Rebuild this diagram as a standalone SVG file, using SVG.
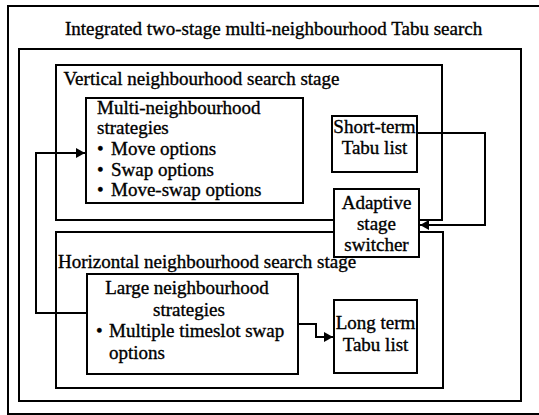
<svg xmlns="http://www.w3.org/2000/svg" width="539" height="415" viewBox="0 0 539 415">
<defs>
<style>
.box{fill:none;stroke:#000;stroke-width:2}
.node{fill:#fff;stroke:#000;stroke-width:2}
.t{font-family:"Liberation Serif","Times New Roman",serif;font-size:19px;fill:#000;stroke:#000;stroke-width:0.35}
.m{text-anchor:middle}
.c{fill:none;stroke:#000;stroke-width:2}
</style>
<marker id="ah" markerUnits="userSpaceOnUse" markerWidth="9" markerHeight="10" refX="9" refY="5" orient="auto">
<path d="M0,0 L9,5 L0,10 z" fill="#000"/>
</marker>
</defs>
<rect width="539" height="415" fill="#fff"/>
<g id="outer">
<rect class="box" x="8" y="6" width="545" height="408"/>
<text class="t" x="65" y="35">Integrated two-stage multi-neighbourhood Tabu search</text>
</g>
<g id="frame">
<rect class="box" x="19" y="49" width="502" height="352"/>
</g>
<g id="vertical-stage">
<rect class="box" x="56" y="65" width="386" height="155"/>
<text class="t" x="63.5" y="84.5">Vertical neighbourhood search stage</text>
</g>
<g id="horizontal-stage">
<rect class="box" x="56" y="232" width="387" height="156"/>
<text class="t" x="58" y="267.5">Horizontal neighbourhood search stage</text>
</g>
<g id="connectors">
<path class="c" d="M87,313 H36 V153 H85" marker-end="url(#ah)"/>
<path class="c" d="M417,133 H485 V225 H420" marker-end="url(#ah)"/>
<path class="c" d="M298,324 H316 V337 H333" marker-end="url(#ah)"/>
</g>
<g id="multi-neighbourhood">
<rect class="node" x="86" y="98" width="217" height="105"/>
<text class="t" x="97" y="113.5">Multi-neighbourhood</text>
<text class="t" x="97" y="134">strategies</text>
<text class="t" x="97" y="155">•</text><text class="t" x="111" y="155">Move options</text>
<text class="t" x="97" y="175.5">•</text><text class="t" x="111" y="175.5">Swap options</text>
<text class="t" x="97" y="196">•</text><text class="t" x="111" y="196">Move-swap options</text>
</g>
<g id="short-term">
<rect class="node" x="332" y="116" width="85" height="56"/>
<text class="t m" x="374.5" y="132.5">Short-term</text>
<text class="t m" x="374.5" y="154">Tabu list</text>
</g>
<g id="switcher">
<rect class="node" x="334" y="189" width="85" height="68"/>
<text class="t m" x="376.5" y="208.5">Adaptive</text>
<text class="t m" x="376.5" y="229.5">stage</text>
<text class="t m" x="376.5" y="250.5">switcher</text>
</g>
<g id="large-neighbourhood">
<rect class="node" x="87" y="274" width="211" height="100"/>
<text class="t m" x="187" y="294">Large neighbourhood</text>
<text class="t m" x="189" y="315.5">strategies</text>
<text class="t" x="96" y="337">•</text><text class="t" x="109" y="337">Multiple timeslot swap</text>
<text class="t" x="109" y="358.5">options</text>
</g>
<g id="long-term">
<rect class="node" x="334" y="300" width="83" height="73"/>
<text class="t m" x="375.5" y="329">Long term</text>
<text class="t m" x="375.5" y="350.5">Tabu list</text>
</g>
</svg>
